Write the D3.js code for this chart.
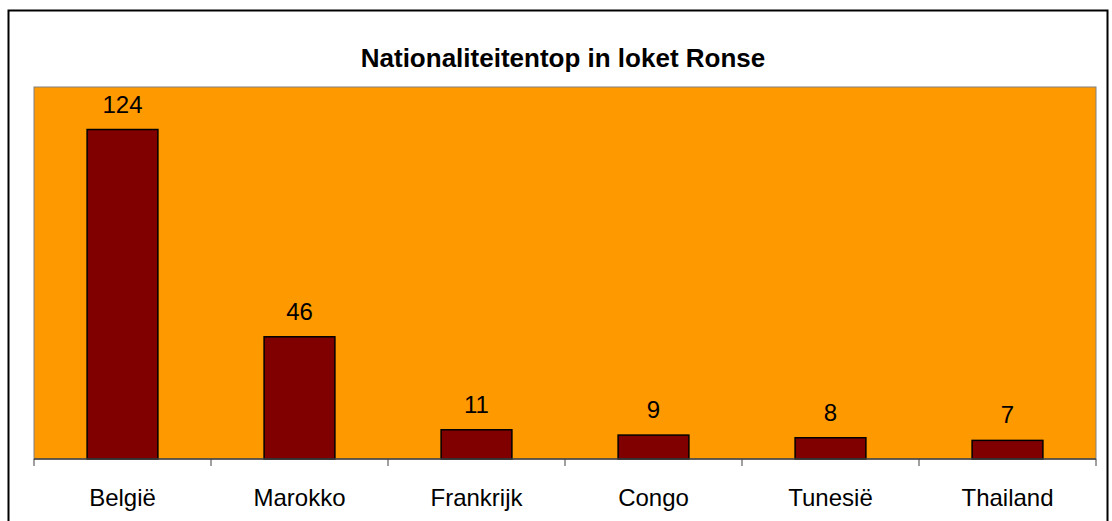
<!DOCTYPE html>
<meta charset="utf-8">
<style>
  body { margin: 0; background: #fff; }
  svg { display: block; font-family: "Liberation Sans", Arial, sans-serif; }
</style>
<script src="https://d3js.org/d3.v7.min.js"></script>
<body>
<div id="chart"></div>
<script>
// data
var countries = ["België", "Marokko", "Frankrijk", "Congo", "Tunesië", "Thailand"];
var counts = [124, 46, 11, 9, 8, 7];
var titleText = "Nationaliteitentop in loket Ronse";

var W = 1112, H = 521;
var plot = {left: 34, right: 1096, top: 87, bottom: 459};

var svg = d3.select("#chart").append("svg")
    .attr("width", W)
    .attr("height", H);

// outer frame
svg.append("rect")
    .attr("x", 8.5).attr("y", 10.5)
    .attr("width", 1099).attr("height", 530)
    .attr("fill", "#fff")
    .attr("stroke", "#000")
    .attr("stroke-width", 2);

var x = d3.scaleBand()
    .domain(countries)
    .range([plot.left, plot.right])
    .paddingInner(0.6)
    .paddingOuter(0.3);

var xTicks = d3.scaleBand().domain(countries).range([plot.left, plot.right]);

var y = d3.scaleLinear()
    .domain([0, 140])
    .range([plot.bottom, plot.top]);

// plot area
svg.append("rect")
    .attr("x", plot.left).attr("y", plot.top)
    .attr("width", plot.right - plot.left)
    .attr("height", plot.bottom - plot.top)
    .attr("fill", "#ff9900")
    .attr("stroke", "#808080")
    .attr("stroke-width", 1);

var data = countries.map(function(c, i) { return {country: c, value: counts[i]}; });

svg.selectAll(".bar")
  .data(data)
  .enter()
  .append("rect")
    .attr("class", "bar")
    .attr("x", function(d) { return x(d.country); })
    .attr("y", function(d) { return y(d.value); })
    .attr("width", x.bandwidth())
    .attr("height", function(d) { return y(0) - y(d.value); })
    .attr("fill", "#800000")
    .attr("stroke", "#000")
    .attr("stroke-width", 1.5);

svg.selectAll(".val")
  .data(data)
  .enter()
  .append("text")
    .attr("class", "val")
    .attr("x", function(d) { return x(d.country) + x.bandwidth() / 2; })
    .attr("y", function(d) { return y(d.value) - 17; })
    .attr("text-anchor", "middle")
    .attr("font-size", 24)
    .text(function(d) { return d.value; });

// x axis
var axis = svg.append("g")
    .attr("transform", "translate(0," + plot.bottom + ")");
axis.append("line")
    .attr("x1", plot.left).attr("x2", plot.right)
    .attr("stroke", "#404040").attr("stroke-width", 1.5);
var tickPos = countries.map(function(c) { return xTicks(c); }).concat([plot.right]);
axis.selectAll(".tick")
  .data(tickPos)
  .enter()
  .append("line")
    .attr("x1", function(d) { return d; })
    .attr("x2", function(d) { return d; })
    .attr("y1", 0).attr("y2", 7)
    .attr("stroke", "#404040");
axis.selectAll(".lbl")
  .data(countries)
  .enter()
  .append("text")
    .attr("x", function(d) { return xTicks(d) + xTicks.bandwidth() / 2; })
    .attr("y", 47)
    .attr("text-anchor", "middle")
    .attr("font-size", 24)
    .text(function(d) { return d; });

svg.append("text")
    .attr("x", 563)
    .attr("y", 67)
    .attr("text-anchor", "middle")
    .attr("font-size", 26)
    .attr("font-weight", "bold")
    .text(titleText);
</script>
</body>
